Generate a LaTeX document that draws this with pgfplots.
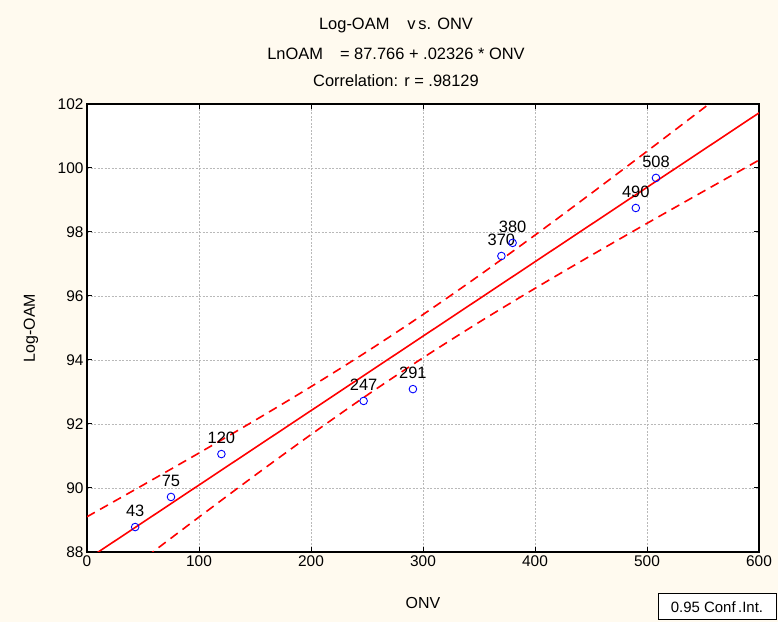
\documentclass[border=0pt]{standalone}
\usepackage{pgfplots}
\pgfplotsset{compat=1.18}
\usepackage{fontspec}
\setmainfont{Liberation Sans}
\definecolor{bgc}{RGB}{255,250,239}
\begin{document}
\begin{tikzpicture}[x=1bp,y=1bp]
\fill[bgc] (0,0) rectangle (778,622);
\begin{axis}[at={(87bp,70bp)}, anchor=south west, scale only axis,
  width=672bp, height=448bp,
  xmin=0, xmax=600, ymin=88, ymax=102,
  xtick={0,100,...,600}, ytick={88,90,...,102},
  axis background/.style={fill=white},
  axis line style={line width=1.6bp},
  tick style={black, line width=1bp},
  major tick length=5bp, tick align=inside,
  grid=major, major grid style={gray!55, line width=0.6bp, dash pattern=on 2bp off 1.5bp},
  /pgf/number format/assume math mode=true,
  ticklabel style={font=\fontsize{15.5}{17}\selectfont},
  xlabel={ONV}, ylabel={Log-OAM},
  label style={font=\fontsize{16}{18}\selectfont},
  x label style={at={(axis description cs:0.5,-0.114)}, anchor=center},
  y label style={at={(axis description cs:-0.0833,0.5)}, anchor=center},
  clip=true,
]
\addplot[red, line width=1.6bp] coordinates {(0,87.766) (600,101.722)};
\addplot[red, line width=1.6bp, dash pattern=on 9bp off 6bp, smooth] coordinates {
(0,89.101) (50,90.091) (100,91.093) (150,92.114) (200,93.166) (250,94.263) (300,95.420)
(350,96.636) (400,97.902) (450,99.201) (500,100.522) (550,101.856) (600,103.198)};
\addplot[red, line width=1.6bp, dash pattern=on 9bp off 6bp, smooth] coordinates {
(0,86.431) (50,87.768) (100,89.091) (150,90.396) (200,91.670) (250,92.899) (300,94.068)
(350,95.178) (400,96.238) (450,97.265) (500,98.270) (550,99.262) (600,100.246)};
\addplot[only marks, mark=o, blue, mark size=3.8bp, mark options={line width=0.9bp},
  nodes near coords, point meta=explicit symbolic,
  every node near coord/.append style={anchor=center, yshift=16.5bp, black, font=\fontsize{16.5}{18}\selectfont}]
  table[meta=lab] {
x y lab
43 88.78 43
75 89.72 75
120 91.06 120
247 92.72 247
291 93.09 291
370 97.25 370
380 97.66 380
490 98.75 490
508 99.69 508
};
\end{axis}
\node[font=\fontsize{16.5}{18}\selectfont] at (396,597) {Log-OAM\hspace{18bp}v\,s. ONV};
\node[font=\fontsize{16.5}{18}\selectfont] at (396,568) {LnOAM\hspace{17bp}= 87.766 + .02326 * ONV};
\node[font=\fontsize{16.5}{18}\selectfont] at (396,541) {Correlation: r = .98129};
\draw[line width=1bp, fill=white] (658,2) rectangle (776,28);
\node[font=\fontsize{15}{17}\selectfont] at (717,15) {0.95 Conf\,.Int.};
\end{tikzpicture}
\end{document}
